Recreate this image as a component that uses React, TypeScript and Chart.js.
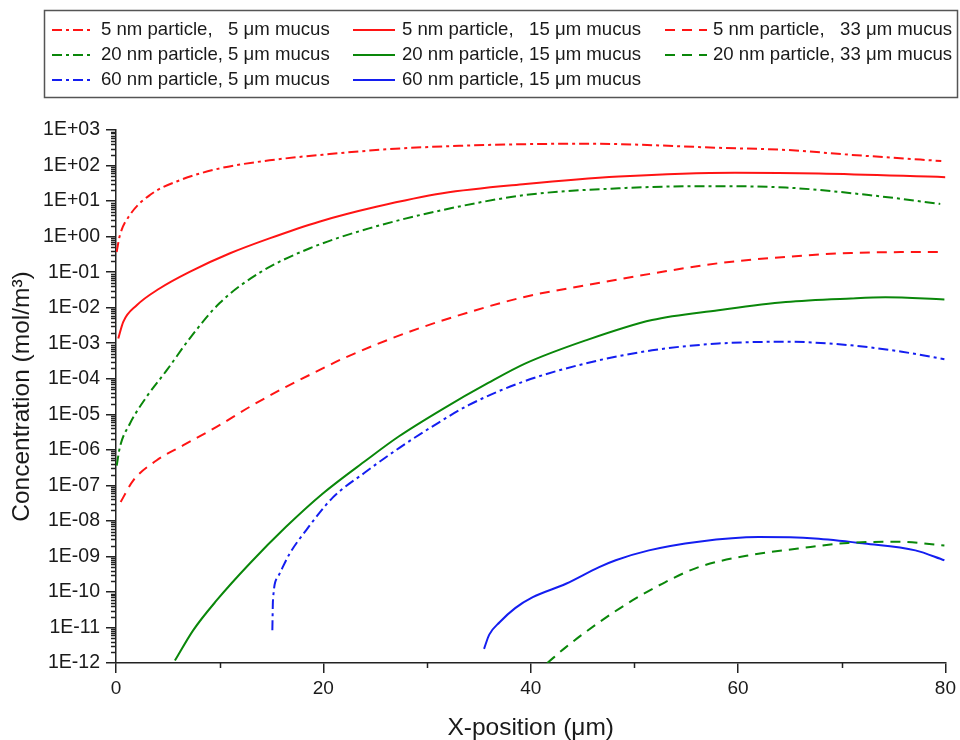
import React, { useEffect, useRef } from 'react';
import { Chart, registerables } from 'chart.js';

Chart.register(...registerables);

// ---------------- DATA ----------------
const seriesLabels = [
  '5 nm particle,   5 \u03bcm mucus',
  '5 nm particle,   15 \u03bcm mucus',
  '5 nm particle,   33 \u03bcm mucus',
  '20 nm particle, 5 \u03bcm mucus',
  '20 nm particle, 15 \u03bcm mucus',
  '20 nm particle, 33 \u03bcm mucus',
  '60 nm particle, 5 \u03bcm mucus',
  '60 nm particle, 15 \u03bcm mucus',
];

// 5 nm particle, 5 um mucus
const p5m5X = [0.06, 0.38, 1.35, 3.3, 6.2, 10, 14.8, 20.6, 26.4, 33.1, 39.6, 44, 48.5, 58.1, 64.6, 70.9, 79.6];
const p5m5Y = [0.37, 1.1, 4.1, 15, 39, 83, 140, 210, 290, 360, 400, 410, 400, 316, 275, 200, 134];

// 5 nm particle, 15 um mucus
const p5m15X = [0.22, 0.7, 2.0, 4.2, 7.1, 11, 14.8, 19.6, 25.1, 31.5, 39.5, 48.5, 59.7, 67.8, 80];
const p5m15Y = [1.35e-3, 4.0e-3, 0.0117, 0.0347, 0.102, 0.339, 0.89, 2.63, 6.9, 16.6, 30.2, 49, 63, 60, 47];

// 5 nm particle, 33 um mucus
const p5m33X = [0.45, 1.67, 3.9, 6.5, 9.7, 12.9, 16.4, 19.6, 21.9, 28.3, 34.7, 39.5, 45.3, 51.7, 58.1, 64.6, 70.9, 79.9];
const p5m33Y = [3.4e-8, 1.38e-7, 5.0e-7, 1.35e-6, 4.4e-6, 1.62e-5, 5.9e-5, 1.74e-4, 3.7e-4, 2.1e-3, 8.5e-3, 0.0204, 0.0427, 0.0912, 0.178, 0.269, 0.347, 0.372];

// 20 nm particle, 5 um mucus
const p20m5X = [0.07, 0.38, 1.35, 2.95, 4.9, 7.1, 10, 13.9, 18.7, 24.4, 31.5, 39.5, 48.5, 56.5, 64.6, 72.6, 79.5];
const p20m5Y = [3.6e-7, 1.2e-6, 5.5e-6, 3.1e-5, 1.74e-4, 1.35e-3, 0.0135, 0.098, 0.47, 1.7, 5.6, 14.8, 22.9, 26.3, 24, 14.8, 8.3];

// 20 nm particle, 15 um mucus
const p20m15X = [5.68, 7.44, 9.7, 12.9, 16.4, 19.95, 24.1, 27.3, 31.5, 35.9, 39.5, 45.3, 51.7, 58.1, 64.6, 70.9, 74.2, 79.9];
const p20m15Y = [1.17e-12, 8.3e-12, 5.75e-11, 6.3e-10, 6.8e-9, 5.9e-8, 5.0e-7, 2.4e-6, 1.4e-5, 7.6e-5, 2.7e-4, 1.2e-3, 4.5e-3, 8.5e-3, 0.0145, 0.0182, 0.0195, 0.017];

// 20 nm particle, 33 um mucus
const p20m33X = [41.6, 43.4, 46.6, 49.8, 53, 56.2, 61, 65.8, 70.6, 75.5, 79.9];
const p20m33Y = [1.0e-12, 2.8e-12, 1.4e-11, 5.75e-11, 1.9e-10, 5.0e-10, 1.07e-9, 1.66e-9, 2.4e-9, 2.57e-9, 2.04e-9];

// 60 nm particle, 5 um mucus
const p60m5X = [15.08, 15.14, 15.6, 16.75, 18.35, 20.9, 24.1, 27.3, 30.5, 34.0, 39.2, 45.3, 51.7, 58.1, 64.6, 70.9, 75.8, 79.9];
const p60m5Y = [8.3e-12, 5.75e-11, 2.6e-10, 1.2e-9, 5.5e-9, 4.5e-8, 2.4e-7, 1.12e-6, 4.5e-6, 1.8e-5, 8.1e-5, 2.7e-4, 6.3e-4, 9.8e-4, 1.1e-3, 8.7e-4, 5.75e-4, 3.55e-4];

// 60 nm particle, 15 um mucus
const p60m15X = [35.5, 36.0, 37.0, 38.5, 40.2, 43.4, 46.6, 48.2, 51.4, 56.2, 62, 67.4, 72.2, 77.1, 79.9];
const p60m15Y = [2.5e-12, 6.3e-12, 1.4e-11, 3.5e-11, 7.1e-11, 1.7e-10, 5.0e-10, 7.8e-10, 1.48e-9, 2.6e-9, 3.5e-9, 3.2e-9, 2.3e-9, 1.48e-9, 7.8e-10];

const seriesX = [p5m5X, p5m15X, p5m33X, p20m5X, p20m15X, p20m33X, p60m5X, p60m15X];
const seriesY = [p5m5Y, p5m15Y, p5m33Y, p20m5Y, p20m15Y, p20m33Y, p60m5Y, p60m15Y];

// ticks
const yDecadeTicks = [1e-12, 1e-11, 1e-10, 1e-9, 1e-8, 1e-7, 1e-6, 1e-5, 1e-4, 1e-3, 1e-2, 1e-1, 1, 10, 100, 1000];
const yMinorSignificands = [2, 3, 4, 5, 6, 7, 8, 9];
const xMajorTicks = [0, 20, 40, 60, 80];
const xMinorTicks = [10, 30, 50, 70];

// ---------------- STYLES ----------------
const RED = 'rgb(255,20,20)';
const GREEN = 'rgb(10,135,10)';
const BLUE = 'rgb(20,30,240)';
const DASHDOT = [10, 4, 3, 4];
const SOLID: number[] = [];
const DASHED = [10, 7];
const seriesColors = [RED, RED, RED, GREEN, GREEN, GREEN, BLUE, BLUE];
const seriesDash = [DASHDOT, SOLID, DASHED, DASHDOT, SOLID, DASHED, DASHDOT, SOLID];

const FONT = "'Liberation Sans', Arial, Helvetica, sans-serif";
const TEXT = '#1a1a1a';
const AXIS = '#222';

const fmtExp = (v: number) => {
  const e = Math.round(Math.log10(v));
  return '1E' + (e >= 0 ? '+' : '-') + String(Math.abs(e)).padStart(2, '0');
};

const legendCols = [52, 353, 665];
const legendTextX = [101, 402, 713];
const legendRows = [30, 55, 80];

const customPlugin = {
  id: 'customDecor',
  afterDraw(chart: any) {
    const ctx: CanvasRenderingContext2D = chart.ctx;
    const xs = chart.scales.x;
    const ys = chart.scales.y;
    const area = chart.chartArea;
    ctx.save();
    // minor ticks
    ctx.strokeStyle = AXIS;
    ctx.lineWidth = 1.5;
    ctx.setLineDash([]);
    for (let i = 0; i < yDecadeTicks.length - 1; i++) {
      for (const m of yMinorSignificands) {
        const py = Math.round(ys.getPixelForValue(m * yDecadeTicks[i])) + 0.5;
        ctx.beginPath();
        ctx.moveTo(area.left, py);
        ctx.lineTo(area.left - 5, py);
        ctx.stroke();
      }
    }
    for (const v of xMinorTicks) {
      const px = Math.round(xs.getPixelForValue(v)) + 0.5;
      ctx.beginPath();
      ctx.moveTo(px, area.bottom);
      ctx.lineTo(px, area.bottom + 5);
      ctx.stroke();
    }
    // legend box
    ctx.strokeStyle = '#555';
    ctx.lineWidth = 1.5;
    ctx.strokeRect(44.5, 10.5, 913, 87);
    // legend entries
    ctx.font = `18.6px ${FONT}`;
    ctx.textBaseline = 'middle';
    ctx.textAlign = 'left';
    chart.data.datasets.forEach((ds: any, i: number) => {
      const row = Math.floor(i / 3);
      const col = i % 3;
      const y = legendRows[row];
      const x0 = legendCols[col];
      ctx.strokeStyle = ds.borderColor;
      ctx.lineWidth = 2;
      ctx.setLineDash(ds.borderDash || []);
      ctx.beginPath();
      ctx.moveTo(x0, y);
      ctx.lineTo(x0 + 42, y);
      ctx.stroke();
      ctx.setLineDash([]);
      ctx.fillStyle = TEXT;
      ctx.fillText(ds.label, legendTextX[col], y);
    });
    ctx.restore();
  },
};

export default function App() {
  const canvasRef = useRef<HTMLCanvasElement | null>(null);

  useEffect(() => {
    if (!canvasRef.current) return;
    const datasets = seriesLabels.map((label, i) => ({
      label,
      data: seriesX[i].map((x, j) => ({ x, y: seriesY[i][j] })),
      borderColor: seriesColors[i],
      backgroundColor: seriesColors[i],
      borderDash: seriesDash[i],
      borderWidth: 2,
      pointRadius: 0,
      fill: false,
      cubicInterpolationMode: 'monotone' as const,
    }));

    const chart = new Chart(canvasRef.current, {
      type: 'line',
      data: { datasets },
      options: {
        responsive: false,
        animation: false,
        devicePixelRatio: 1,
        layout: { padding: { top: 130, right: 13, bottom: 0, left: 0 } },
        plugins: {
          legend: { display: false },
          tooltip: { enabled: false },
        },
        scales: {
          x: {
            type: 'linear',
            min: 0,
            max: 80,
            afterBuildTicks: (scale: any) => {
              scale.ticks = xMajorTicks.map((v) => ({ value: v }));
            },
            afterFit: (scale: any) => {
              scale.height = 77;
            },
            ticks: {
              autoSkip: false,
              maxRotation: 0,
              color: TEXT,
              font: { family: FONT, size: 19 },
              padding: 4,
            },
            grid: {
              drawOnChartArea: false,
              drawTicks: true,
              tickLength: 10,
              color: AXIS,
              lineWidth: 1.5,
            },
            border: { display: true, color: AXIS, width: 1.5 },
            title: {
              display: true,
              text: 'X-position (\u03bcm)',
              color: TEXT,
              font: { family: FONT, size: 24.5, lineHeight: 1 },
              padding: { top: 0, bottom: 0 },
            },
          },
          y: {
            type: 'logarithmic',
            min: 1e-12,
            max: 1e3,
            afterBuildTicks: (scale: any) => {
              scale.ticks = yDecadeTicks.map((v) => ({ value: v, major: true }));
            },
            afterFit: (scale: any) => {
              scale.width = 116;
            },
            ticks: {
              autoSkip: false,
              color: TEXT,
              font: { family: FONT, size: 19.5 },
              padding: 6,
              callback: (v: any) => fmtExp(Number(v)),
            },
            grid: {
              drawOnChartArea: false,
              drawTicks: true,
              tickLength: 10,
              color: AXIS,
              lineWidth: 1.5,
            },
            border: { display: true, color: AXIS, width: 1.5 },
            title: {
              display: true,
              text: 'Concentration (mol/m\u00b3)',
              color: TEXT,
              font: { family: FONT, size: 24.5, lineHeight: 1 },
              padding: { top: 10, bottom: 0 },
            },
          },
        },
      },
      plugins: [customPlugin],
    } as any);

    return () => chart.destroy();
  }, []);

  return (
    <div style={{ position: 'fixed', left: 0, top: 0, width: 960, height: 740, background: '#fff' }}>
      <canvas ref={canvasRef} width={960} height={740} style={{ display: 'block' }} />
    </div>
  );
}
